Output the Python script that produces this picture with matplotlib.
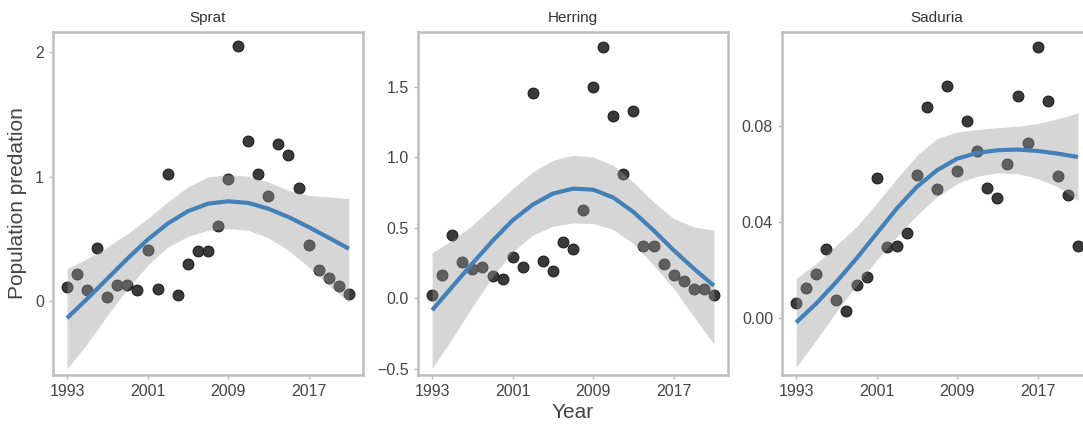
import matplotlib.pyplot as plt
import numpy as np

plt.rcParams['font.family'] = ['Liberation Sans', 'DejaVu Sans']

# --- DATA ---
years = np.arange(1993, 2022)

sprat = [0.115, 0.22, 0.094, 0.43, 0.035, 0.134, 0.134, 0.094, 0.41, 0.10,
         1.02, 0.054, 0.30, 0.405, 0.405, 0.606, 0.984, 2.045, 1.287, 1.02,
         0.847, 1.265, 1.174, 0.91, 0.456, 0.25, 0.19, 0.123, 0.062]

herring = [0.028, 0.165, 0.453, 0.255, 0.208, 0.226, 0.158, 0.139, 0.297, 0.226,
           1.458, 0.262, 0.193, 0.40, 0.351, 0.63, 1.50, 1.78, 1.29, 0.88,
           1.33, 0.375, 0.375, 0.245, 0.165, 0.125, 0.064, 0.068, 0.028]

saduria = [0.0065, 0.0127, 0.0185, 0.0289, 0.0076, 0.0030, 0.0141, 0.0174, 0.0584, 0.0298,
           0.0302, 0.0357, 0.0595, 0.0880, 0.0540, 0.0965, 0.0612, 0.0821, 0.0696, 0.0541,
           0.0501, 0.0641, 0.0926, 0.0731, 0.1128, 0.0904, 0.0592, 0.0512, 0.0303]

# smoothed trend with 95% band, every second year
smooth_years = np.arange(1993, 2022, 2)

sprat_fit = [-0.134, 0.021, 0.182, 0.343, 0.495, 0.624, 0.723, 0.784,
             0.803, 0.790, 0.744, 0.677, 0.597, 0.511, 0.423]
sprat_lo = [-0.541, -0.34, -0.112, 0.10, 0.289, 0.436, 0.522, 0.57,
            0.584, 0.57, 0.511, 0.41, 0.276, 0.129, -0.005]
sprat_hi = [0.262, 0.343, 0.436, 0.543, 0.664, 0.798, 0.918, 0.999,
            1.017, 1.004, 0.958, 0.89, 0.851, 0.838, 0.825]

herring_fit = [-0.083, 0.083, 0.248, 0.408, 0.554, 0.665, 0.743, 0.778,
               0.771, 0.715, 0.613, 0.483, 0.342, 0.212, 0.09]
herring_lo = [-0.495, -0.283, -0.059, 0.153, 0.33, 0.448, 0.512, 0.535,
              0.531, 0.488, 0.389, 0.236, 0.071, -0.13, -0.323]
herring_hi = [0.323, 0.413, 0.519, 0.649, 0.778, 0.896, 0.979, 1.014,
              1.002, 0.943, 0.825, 0.684, 0.566, 0.507, 0.483]

saduria_fit = [-0.0017, 0.0062, 0.0152, 0.0249, 0.0353, 0.0457, 0.0547, 0.0616,
               0.0664, 0.0688, 0.0699, 0.0702, 0.0696, 0.0685, 0.0671]
saduria_lo = [-0.0203, -0.009, 0.0028, 0.0138, 0.0242, 0.0339, 0.0429, 0.0505,
              0.0561, 0.0591, 0.0605, 0.0602, 0.0581, 0.0547, 0.0491]
saduria_hi = [0.0166, 0.0228, 0.0305, 0.0381, 0.0478, 0.0581, 0.0678, 0.0747,
              0.0775, 0.0785, 0.0793, 0.0799, 0.081, 0.083, 0.0854]

species = ['Sprat', 'Herring', 'Saduria']
series = [sprat, herring, saduria]
fits = [sprat_fit, herring_fit, saduria_fit]
lows = [sprat_lo, herring_lo, saduria_lo]
highs = [sprat_hi, herring_hi, saduria_hi]

y_ticks = [[0, 1, 2], [-0.5, 0.0, 0.5, 1.0, 1.5], [0.00, 0.04, 0.08]]
y_fmt = ['{:.0f}', '{:.1f}', '{:.2f}']
y_lims = [(-0.59, 2.16), (-0.542, 1.887), (-0.0235, 0.119)]
x_ticks = [1993, 2001, 2009, 2017]

fig = plt.figure(figsize=(10.83, 4.34), dpi=100)
lefts = [0.0489, 0.386, 0.7221]
frame_col = '#bdbdbd'
text_col = '#444444'

for i, name in enumerate(species):
    ax = fig.add_axes([lefts[i], 0.136, 0.2862, 0.790])

    # points first, so the ribbon greys out the ones it covers
    ax.scatter(years, series[i], s=60, color='#3a3a3a', edgecolors='#1e1e1e',
               linewidths=0.8, zorder=2)
    ax.fill_between(smooth_years, lows[i], highs[i], color='#999999', alpha=0.4,
                    linewidth=0, zorder=3)
    ax.plot(smooth_years, fits[i], color='#4480b8', linewidth=3,
            solid_capstyle='butt', solid_joinstyle='round', zorder=4)

    ax.set_xlim(1991.6, 2022.4)
    ax.set_ylim(*y_lims[i])
    ax.set_xticks(x_ticks)
    ax.set_xticklabels([str(t) for t in x_ticks])
    ax.set_yticks(y_ticks[i])
    ax.set_yticklabels([y_fmt[i].format(t).replace('-', '\u2212') for t in y_ticks[i]])
    ax.tick_params(colors=frame_col, labelcolor=text_col, labelsize=11.5, length=3, width=1)
    for sp in ax.spines.values():
        sp.set_color(frame_col)
        sp.set_linewidth(1.8)
    ax.set_title(name, fontsize=11, color='#333333', pad=7)

    if i == 0:
        ax.set_ylabel('Population predation', fontsize=15, color=text_col, labelpad=6)
    if i == 1:
        ax.set_xlabel('Year', fontsize=15, color=text_col, labelpad=3)

fig.savefig('out.png', dpi=100)
